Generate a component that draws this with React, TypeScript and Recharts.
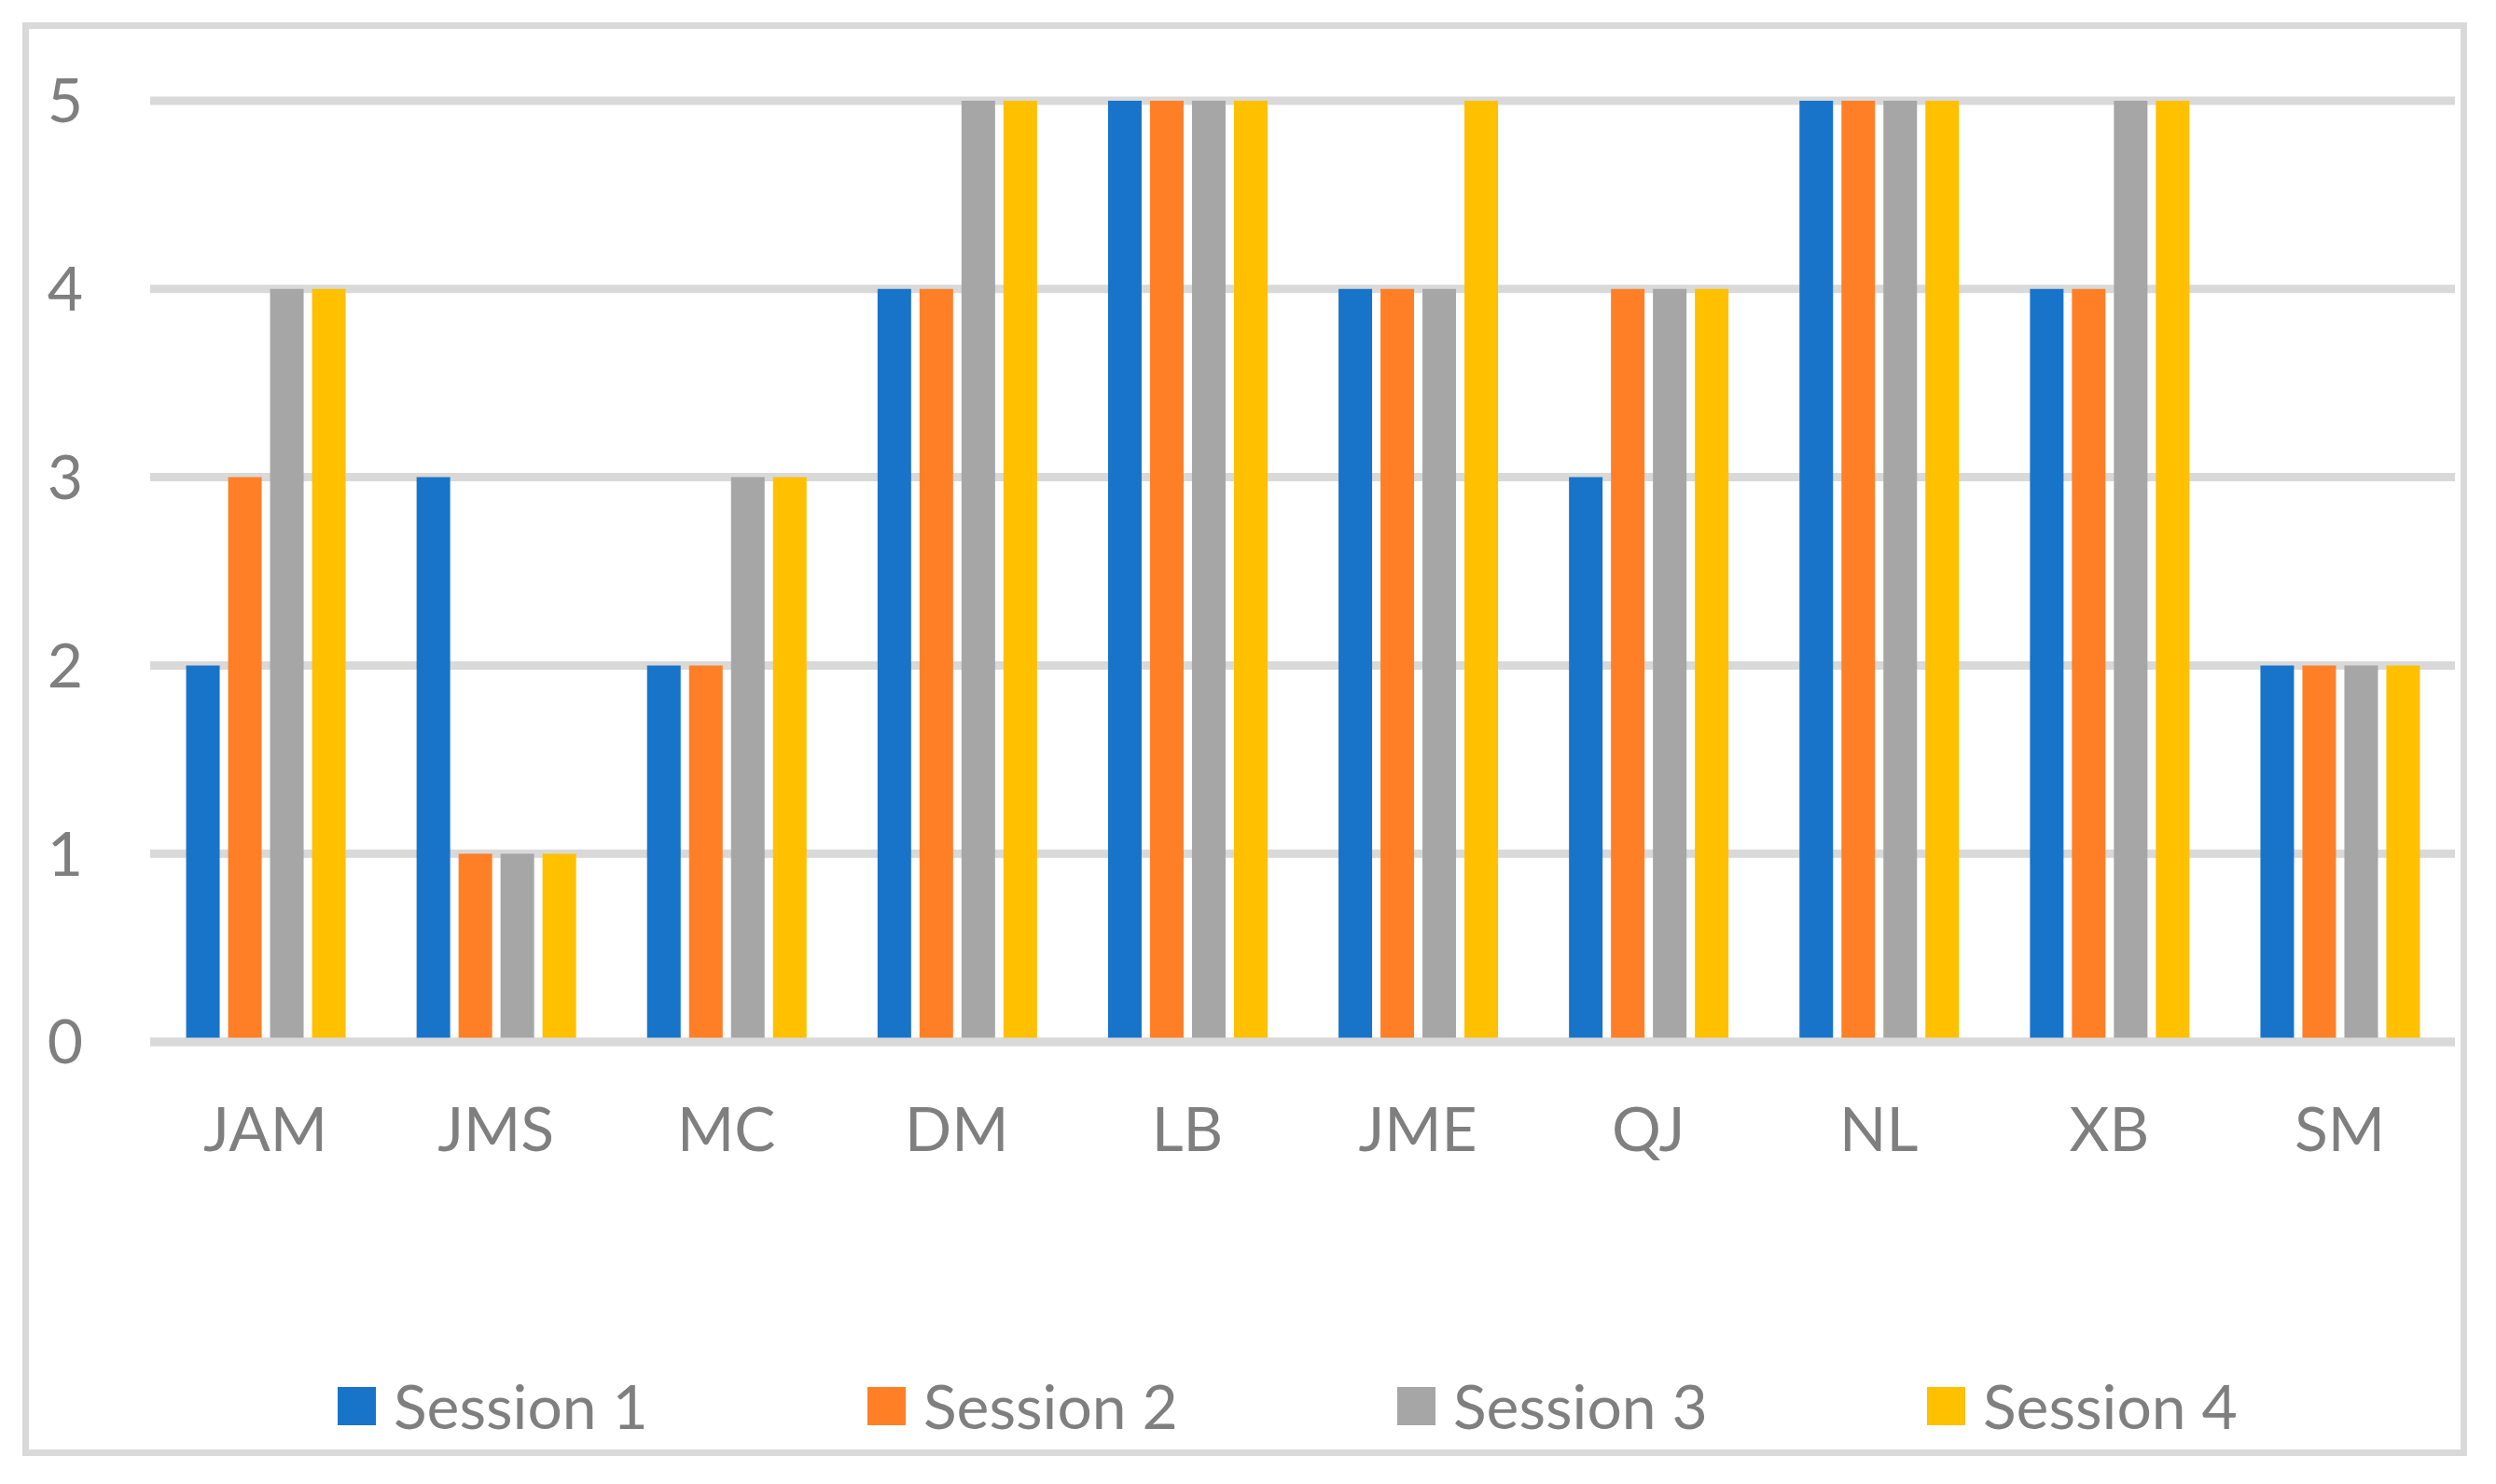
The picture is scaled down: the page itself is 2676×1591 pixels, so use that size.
import React from 'react';
import {
  BarChart,
  Bar,
  XAxis,
  YAxis,
  CartesianGrid,
  Legend,
} from 'recharts';

const categories = ['JAM', 'JMS', 'MC', 'DM', 'LB', 'JME', 'QJ', 'NL', 'XB', 'SM'];
const session1 = [2, 3, 2, 4, 5, 4, 3, 5, 4, 2];
const session2 = [3, 1, 2, 4, 5, 4, 4, 5, 4, 2];
const session3 = [4, 1, 3, 5, 5, 4, 4, 5, 5, 2];
const session4 = [4, 1, 3, 5, 5, 5, 4, 5, 5, 2];
const yTicks = [0, 1, 2, 3, 4, 5];

const seriesNames = ['Session 1', 'Session 2', 'Session 3', 'Session 4'];
const seriesColors = ['#1874C9', '#FF7F27', '#A6A6A6', '#FFC000'];

const data = categories.map((name, i) => ({
  name,
  s1: session1[i],
  s2: session2[i],
  s3: session3[i],
  s4: session4[i],
}));

const FONT = 'Lato, "Open Sans", sans-serif';
const TEXT = '#7f7f7f';
const GRID = '#d9d9d9';

const LegendContent = () => (
  <div style={{ display: 'flex', fontFamily: FONT, color: TEXT, fontSize: 66, height: 66 }}>
    {seriesNames.map((n, i) => (
      <div key={n} style={{ width: 568, display: 'flex', alignItems: 'flex-end' }}>
        <span
          style={{
            display: 'inline-block',
            width: 41,
            height: 41,
            background: seriesColors[i],
            marginRight: 19,
            marginBottom: 12,
          }}
        />
        <span style={{ lineHeight: '66px' }}>{n}</span>
      </div>
    ))}
  </div>
);

export default function App() {
  return (
    <div
      style={{
        position: 'absolute',
        left: 0,
        top: 0,
        width: 2676,
        height: 1591,
        background: '#fff',
      }}
    >
      <div
        style={{
          position: 'absolute',
          left: 24,
          top: 24,
          width: 2621,
          height: 1537,
          boxSizing: 'border-box',
          border: `7px solid ${GRID}`,
        }}
      />
      <div style={{ position: 'absolute', left: 0, top: 0 }}>
        <BarChart
          width={2676}
          height={1591}
          data={data}
          margin={{ top: 108, right: 44, bottom: 258, left: 0 }}
          barCategoryGap="15.6%"
          barGap={9}
        >
          <CartesianGrid vertical={false} stroke={GRID} strokeWidth={9} />
          <XAxis
            dataKey="name"
            axisLine={{ stroke: GRID, strokeWidth: 9 }}
            tickLine={false}
            tickSize={0}
            tickMargin={70}
            height={150}
            tick={{ fill: TEXT, fontSize: 66, fontFamily: FONT }}
          />
          <YAxis
            domain={[0, 5]}
            ticks={yTicks}
            axisLine={false}
            tickLine={false}
            tickSize={0}
            tickMargin={72}
            width={161}
            tick={{ fill: TEXT, fontSize: 66, fontFamily: FONT }}
          />
          <Legend
            content={<LegendContent />}
            wrapperStyle={{ left: 362, top: 1474, width: 2272 }}
          />
          <Bar dataKey="s1" name={seriesNames[0]} fill={seriesColors[0]} isAnimationActive={false} />
          <Bar dataKey="s2" name={seriesNames[1]} fill={seriesColors[1]} isAnimationActive={false} />
          <Bar dataKey="s3" name={seriesNames[2]} fill={seriesColors[2]} isAnimationActive={false} />
          <Bar dataKey="s4" name={seriesNames[3]} fill={seriesColors[3]} isAnimationActive={false} />
        </BarChart>
      </div>
    </div>
  );
}
